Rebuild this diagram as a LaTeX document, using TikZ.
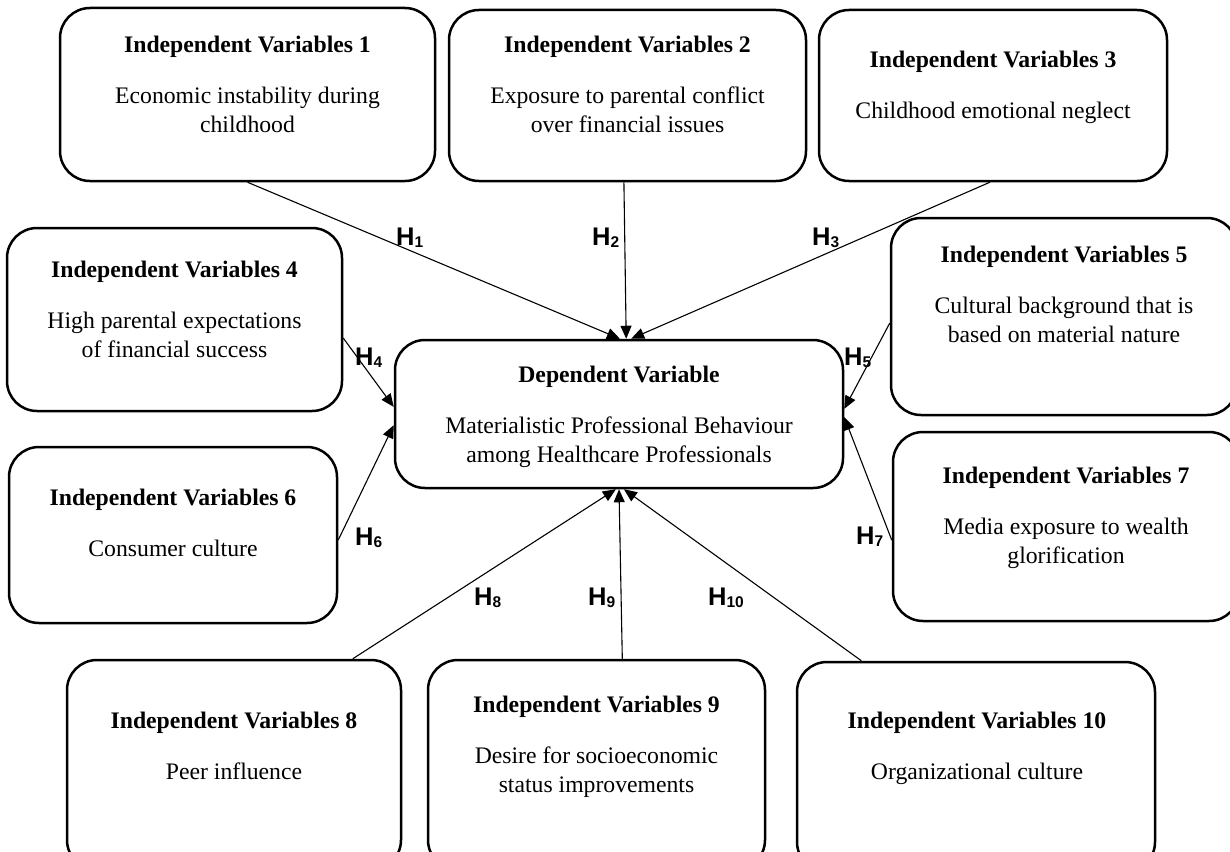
\documentclass[tikz,border=0pt]{standalone}
\usepackage{fontspec}
\setmainfont{Liberation Serif}
\newfontfamily\hfont{Liberation Sans}
\usetikzlibrary{arrows.meta,calc}
\newcommand{\hlab}[1]{{\hfont\bfseries\fontsize{25.5}{26}\selectfont H\raisebox{-2.5pt}{\fontsize{15.5}{16}\selectfont #1}}}
\begin{document}
\begin{tikzpicture}[x=1pt,y=-1pt,
  box/.style={draw, line width=2.5pt, rounded corners=30pt, inner sep=0pt},
  txt/.style={anchor=north, align=center, inner sep=0pt, font=\fontsize{23.7}{29}\selectfont},
  hl/.style={anchor=base west, inner sep=0pt},
  conn/.style={line width=1.1pt, -{Triangle[length=13pt,width=11pt]}}]
\clip (0,0) rectangle (1230,851);
\fill[white] (0,0) rectangle (1230,851);
% boxes
\node[box, minimum width=375pt, minimum height=173pt] (b1) at (247.5,94.5) {};
\node[box, minimum width=357pt, minimum height=171pt] (b2) at (627.5,95.5) {};
\node[box, minimum width=348pt, minimum height=171pt] (b3) at (993,95.5) {};
\node[box, minimum width=335pt, minimum height=183pt] (b4) at (174.5,319.5) {};
\node[box, minimum width=346pt, minimum height=197pt] (b5) at (1064,316.5) {};
\node[box, minimum width=328pt, minimum height=176pt] (b6) at (173,535) {};
\node[box, minimum width=346pt, minimum height=189pt] (b7) at (1066,526.5) {};
\node[box, minimum width=334pt, minimum height=210pt] (b8) at (234,765) {};
\node[box, minimum width=337pt, minimum height=210pt] (b9) at (596.5,765) {};
\node[box, minimum width=358pt, minimum height=210pt] (b10) at (976,767) {};
\node[box, minimum width=448pt, minimum height=148pt] (dep) at (619,414) {};
% texts (north = title baseline - 16)
\node[txt] (t1) at (247.5,36) {{\bfseries Independent Variables 1}\\[22pt]Economic instability during\\childhood};
\node[txt] (t2) at (627.5,36) {{\bfseries Independent Variables 2}\\[22pt]Exposure to parental conflict\\over financial issues};
\node[txt] (t3) at (993,51) {{\bfseries Independent Variables 3}\\[22pt]Childhood emotional neglect};
\node[txt] (t4) at (174.5,261) {{\bfseries Independent Variables 4}\\[22pt]High parental expectations\\of financial success};
\node[txt] (t5) at (1064,246) {{\bfseries Independent Variables 5}\\[22pt]Cultural background that is\\based on material nature};
\node[txt] (t6) at (173,489) {{\bfseries Independent Variables 6}\\[22pt]Consumer culture};
\node[txt] (t7) at (1066,467) {{\bfseries Independent Variables 7}\\[22pt]Media exposure to wealth\\glorification};
\node[txt] (t8) at (234,712) {{\bfseries Independent Variables 8}\\[22pt]Peer influence};
\node[txt] (t9) at (596.5,696) {{\bfseries Independent Variables 9}\\[22pt]Desire for socioeconomic\\status improvements};
\node[txt] (t10) at (977,712) {{\bfseries Independent Variables 10}\\[22pt]Organizational culture};
\node[txt] (td) at (619,366) {{\bfseries Dependent Variable}\\[22pt]Materialistic Professional Behaviour\\among Healthcare Professionals};
% connectors
\draw[conn] (b1.south) -- ($(dep.north west)!0.502!(dep.north east)$);
\draw[conn] ($(b2.south west)!0.49!(b2.south east)$) -- ($(dep.north west)!0.516!(dep.north east)$);
\draw[conn] ($(b3.south west)!0.491!(b3.south east)$) -- ($(dep.north west)!0.527!(dep.north east)$);
\draw[conn] ($(b4.north east)!0.60!(b4.south east)$) -- ($(dep.north west)!0.453!(dep.south west)$);
\draw[conn] ($(b6.north east)!0.528!(b6.south east)$) -- ($(dep.north west)!0.574!(dep.south west)$);
\draw[conn] ($(b5.north west)!0.533!(b5.south west)$) -- ($(dep.north east)!0.466!(dep.south east)$);
\draw[conn] ($(b7.north west)!0.571!(b7.south west)$) -- ($(dep.north east)!0.52!(dep.south east)$);
\draw[conn] ($(b8.north west)!0.853!(b8.north east)$) -- ($(dep.south west)!0.493!(dep.south east)$);
\draw[conn] ($(b9.north west)!0.576!(b9.north east)$) -- ($(dep.south west)!0.5!(dep.south east)$);
\draw[conn] ($(b10.north west)!0.182!(b10.north east)$) -- ($(dep.south west)!0.511!(dep.south east)$);
% hypothesis labels
\node[hl] (h1) at (396,245) {\hlab{1}};
\node[hl] (h2) at (592,245) {\hlab{2}};
\node[hl] (h3) at (812,245) {\hlab{3}};
\node[hl] (h4) at (355,365) {\hlab{4}};
\node[hl] (h5) at (844,365) {\hlab{5}};
\node[hl] (h6) at (355,545) {\hlab{6}};
\node[hl] (h7) at (856,544) {\hlab{7}};
\node[hl] (h8) at (474,605) {\hlab{8}};
\node[hl] (h9) at (588,605) {\hlab{9}};
\node[hl] (h10) at (708,605) {\hlab{10}};
\end{tikzpicture}
\end{document}
